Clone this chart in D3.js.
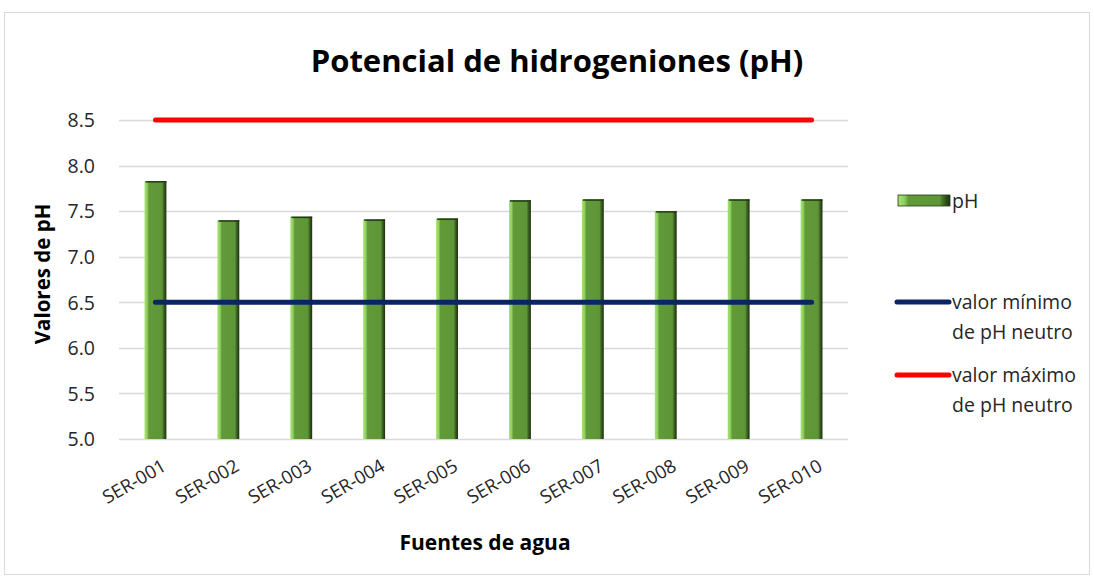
<!DOCTYPE html>
<html><head><meta charset="utf-8">
<script src="https://cdn.jsdelivr.net/npm/d3@7"></script>
<style>body{margin:0;background:#fff}svg{display:block;font-family:"Open Sans",sans-serif}</style>
</head><body><svg id="c" width="1094" height="580"></svg>
<script>
const categories = ["SER-001","SER-002","SER-003","SER-004","SER-005","SER-006","SER-007","SER-008","SER-009","SER-010"];
const phValues = [7.83, 7.40, 7.44, 7.41, 7.42, 7.62, 7.63, 7.50, 7.63, 7.63];
const minNeutral = [6.5,6.5,6.5,6.5,6.5,6.5,6.5,6.5,6.5,6.5];
const maxNeutral = [8.5,8.5,8.5,8.5,8.5,8.5,8.5,8.5,8.5,8.5];
const yTicks = [5.0,5.5,6.0,6.5,7.0,7.5,8.0,8.5];
const legendLabels = [["pH"],["valor mínimo","de pH neutro"],["valor máximo","de pH neutro"]];

const FONT = "'Open Sans',sans-serif";
const svg = d3.select("#c");
const L=119, R=848, T=120, B=439;
svg.append("rect").attr("x",4.5).attr("y",12.5).attr("width",1085).attr("height",562).attr("fill","#fff").attr("stroke","#d9d9d9");

const x = d3.scaleBand().domain(categories).range([L,R]).paddingInner(0.7).paddingOuter(0.35);
const xc = d3.scalePoint().domain(categories).range([L,R]).padding(0.5);
const y = d3.scaleLinear().domain([5,8.5]).range([B,T]);

const defs = svg.append("defs");
const g = defs.append("linearGradient").attr("id","bar").attr("x1",0).attr("x2",1).attr("y1",0).attr("y2",0);
[[0,"#a6e276"],[0.12,"#8fd05e"],[0.2,"#629a39"],[0.8,"#5e9537"],[0.88,"#3d6522"],[1,"#1b2d0e"]].forEach(s=>g.append("stop").attr("offset",s[0]).attr("stop-color",s[1]));

// grid
svg.append("g").selectAll("line").data(yTicks).join("line")
  .attr("x1",L).attr("x2",R).attr("y1",d=>Math.round(y(d))+0.5).attr("y2",d=>Math.round(y(d))+0.5)
  .attr("stroke","#d9d9d9").attr("stroke-width",1.5);

// y axis
const ya = svg.append("g").attr("transform",`translate(${L-16},0)`)
  .call(d3.axisLeft(y).tickValues(yTicks).tickFormat(d3.format(".1f")).tickSize(0));
ya.select(".domain").remove();
ya.selectAll("text").attr("font-size",19.5).attr("fill","#262626").attr("font-family",FONT).attr("dx",-5).attr("dy","0.35em");

// bars
svg.append("g").selectAll("rect").data(phValues).join("rect")
  .attr("x",(d,i)=>x(categories[i])).attr("width",x.bandwidth())
  .attr("y",d=>y(d)).attr("height",d=>B-y(d))
  .attr("fill","url(#bar)");
svg.append("g").selectAll("line").data(phValues).join("line")
  .attr("x1",(d,i)=>x(categories[i])+1).attr("x2",(d,i)=>x(categories[i])+x.bandwidth())
  .attr("y1",d=>y(d)+0.75).attr("y2",d=>y(d)+0.75).attr("stroke","#223a12").attr("stroke-width",1.5);

// lines
const line = d3.line().x((d,i)=>xc(categories[i])).y(d=>y(d));
svg.append("path").datum(minNeutral).attr("d",line).attr("fill","none").attr("stroke","#0b2462").attr("stroke-width",5).attr("stroke-linecap","round");
svg.append("path").datum(maxNeutral).attr("d",line).attr("fill","none").attr("stroke","#ff0000").attr("stroke-width",5).attr("stroke-linecap","round");

// x axis
const xa = svg.append("g").attr("transform",`translate(0,${B})`).call(d3.axisBottom(xc).tickSize(0));
xa.select(".domain").remove();
xa.selectAll("text").attr("font-size",18.5).attr("fill","#262626").attr("font-family",FONT)
  .attr("text-anchor","end").attr("dy",0).attr("transform","translate(10,28) rotate(-30)");

// titles
svg.append("text").attr("x",557).attr("y",72).attr("text-anchor","middle").attr("font-size",31).attr("font-weight","bold").attr("fill","#000").text("Potencial de hidrogeniones (pH)");
svg.append("text").attr("x",485).attr("y",550).attr("text-anchor","middle").attr("font-size",21).attr("font-weight","bold").attr("fill","#000").text("Fuentes de agua");
svg.append("text").attr("transform","translate(50,274) rotate(-90)").attr("text-anchor","middle").attr("font-size",20.5).attr("font-weight","bold").attr("fill","#000").text("Valores de pH");

// legend
const lg = svg.append("g");
lg.append("rect").attr("x",898).attr("y",195).attr("width",52).attr("height",11).attr("fill","url(#bar)").attr("stroke","#223a12").attr("stroke-width",0.8);
lg.append("line").attr("x1",897).attr("x2",949).attr("y1",302).attr("y2",302).attr("stroke","#0b2462").attr("stroke-width",5).attr("stroke-linecap","round");
lg.append("line").attr("x1",897).attr("x2",949).attr("y1",375).attr("y2",375).attr("stroke","#ff0000").attr("stroke-width",5).attr("stroke-linecap","round");
const ly = [208, 309, 382];
legendLabels.forEach((lines,k)=>{
  lines.forEach((t,j)=>lg.append("text").attr("x",952).attr("y",ly[k]+j*30).attr("font-size",19.5).attr("fill","#262626").text(t));
});
</script></body></html>
